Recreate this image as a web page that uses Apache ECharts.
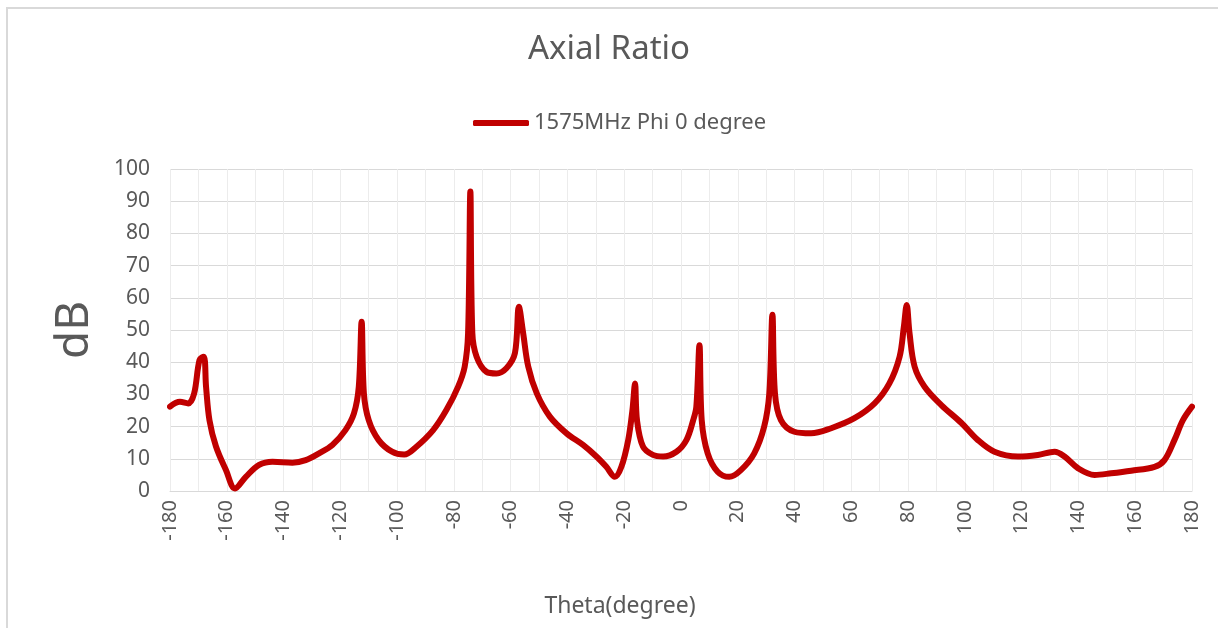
<!DOCTYPE html>
<html><head><meta charset="utf-8">
<script src="https://cdn.jsdelivr.net/npm/echarts@6/dist/echarts.min.js"></script>
<style>html,body{margin:0;padding:0;background:#fff}#c{width:1218px;height:628px}</style>
</head><body><div id="c"></div>
<script>
const thetaDeg = [-180,-176.5,-173.6,-171.5,-169.6,-168.1,-167.3,-166.1,-163.8,-160.3,-157.1,-153.3,-148.6,-143.9,-136.9,-132.2,-127.5,-122.8,-118.2,-115.2,-113.5,-112.5,-111.7,-110,-106.5,-101.8,-97.5,-93.5,-87.3,-82.6,-78.5,-76.2,-75,-74.2,-73.5,-72,-68.5,-65,-61.5,-58.5,-57.1,-55.6,-53.8,-50.8,-46.2,-40.3,-34.5,-29.8,-26.3,-23.3,-21,-18.6,-17.1,-16.2,-15.5,-13.4,-9.9,-6.3,-1.6,1.9,4.3,5.4,6.5,7.3,9.4,12.9,17,21.1,25.8,29.3,31.1,32.2,33.1,35.2,39.9,45.8,52.9,61.1,68.2,73.4,77,78.5,79.5,80.5,82.3,85.8,91.7,98.7,104.6,110.4,118.7,125.7,131.6,135.1,139.8,145.7,151.5,158.6,166.8,170.3,173.8,176.8,180];
const axialRatio = [26.2,27.7,27.2,30.3,40.7,41.7,32.4,22,13.8,6.5,0.8,4.4,8.1,9.1,8.8,9.6,11.7,14.3,18.9,24.1,32.4,52.6,30.3,22,15.8,12.2,11.3,13.5,18.9,25.2,32.4,38.6,49,93,49,41.7,37,36.5,38.1,42.8,57.2,49,38.6,30.3,23.1,17.9,14.3,10.7,7.5,4.4,7.5,15.8,25.2,33.4,22,13.8,11.2,10.7,12.2,15.8,22,26.2,45.3,22,11.7,6,4.4,6.5,11.7,20,30.3,54.7,30.3,22,18.4,17.9,19.5,22.6,27.2,33.4,41.7,51,57.8,49,38.6,32.4,26.7,21.2,15.8,12.2,10.7,11.2,12.2,10.7,7.1,5,5.5,6.3,7.5,9.6,15.8,22,26.2];
const seriesName = '1575MHz Phi 0 degree';
const chartTitle = 'Axial Ratio';
const xName = 'Theta(degree)';
const yName = 'dB';

const pts = thetaDeg.map((t, i) => [t, axialRatio[i]]);
const font = 'Noto Sans';
const chart = echarts.init(document.getElementById('c'));
chart.setOption({
  animation: false,
  backgroundColor: '#fff',
  graphic: [{type:'rect', shape:{x:7,y:8,width:1240,height:660}, style:{fill:null, stroke:'#d9d9d9', lineWidth:2}, silent:true, z:-1}],
  title: {text: chartTitle, left: 'center', top: 28, textStyle: {fontFamily: font, fontSize: 33, fontWeight: 'normal', color: '#595959'}},
  legend: {top: 107, left: 468, itemWidth: 56, itemHeight: 6, icon: 'roundRect',
    textStyle: {fontFamily: font, fontSize: 22, color: '#595959'}, itemGap: 4},
  grid: {left: 170, right: 26, top: 169, bottom: 137},
  xAxis: {type: 'value', min: -180, max: 180, interval: 10,
    name: xName, nameLocation: 'middle', nameGap: 104,
    nameTextStyle: {fontFamily: font, fontSize: 23, color: '#595959', padding: [0, 122, 0, 0]},
    axisLine: {show: true, lineStyle: {color: '#d9d9d9', width: 1}},
    axisTick: {show: false},
    axisLabel: {rotate: 90, margin: 9, fontFamily: font, fontSize: 20, color: '#595959',
      formatter: v => (v % 20 === 0 ? String(v) : '')},
    splitLine: {show: true, lineStyle: {color: '#ececec', width: 1}}},
  yAxis: {type: 'value', min: 0, max: 100, interval: 10,
    name: yName, nameLocation: 'middle', nameGap: 72, nameRotate: 90,
    nameTextStyle: {fontFamily: font, fontSize: 46, color: '#595959'},
    axisLine: {show: false}, axisTick: {show: false},
    axisLabel: {margin: 20, fontFamily: font, fontSize: 21, color: '#595959'},
    splitLine: {show: true, lineStyle: {color: '#d9d9d9', width: 1}}},
  series: [{name: seriesName, type: 'line', data: pts, showSymbol: false, symbol: 'none',
    smooth: 0.35,
    lineStyle: {color: '#c00000', width: 6, cap: 'round', join: 'round'},
    itemStyle: {color: '#c00000'}}]
});
</script></body></html>
